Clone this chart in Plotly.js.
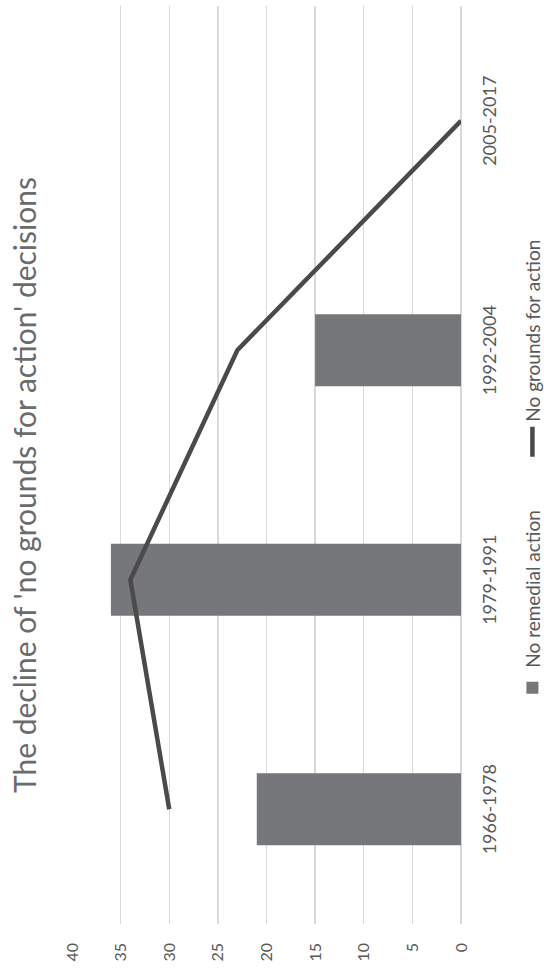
<!DOCTYPE html>
<html>
<head>
<meta charset="utf-8">
<script src="https://cdn.plot.ly/plotly-3.0.1.min.js"></script>
<style>
html,body{margin:0;padding:0;overflow:hidden;width:544px;height:970px;background:#fff}
#chart{position:absolute;left:0;top:0;width:970px;height:544px;transform-origin:0 0;transform:translateY(970px) rotate(-90deg)}
</style>
</head>
<body>
<div id="chart"></div>
<script>
const categories = ['1966-1978', '1979-1991', '1992-2004', '2005-2017'];
const noRemedialAction = [21, 36, 15, 0];
const noGroundsForAction = [30, 34, 23, 0];
const seriesNames = ['No remedial action', 'No grounds for action'];
const valueTicks = [0, 5, 10, 15, 20, 25, 30, 35, 40];
const chartTitle = "The decline of 'no grounds for action' decisions";

const FONT = 'Lato, "Open Sans", sans-serif';
const TEXT = '#595959';

const traces = [
  {
    type: 'bar',
    name: seriesNames[0],
    x: categories,
    y: noRemedialAction,
    marker: {color: '#76777a'},
    hoverinfo: 'skip'
  },
  {
    type: 'scatter',
    mode: 'lines',
    name: seriesNames[1],
    x: categories,
    y: noGroundsForAction,
    line: {color: '#4a4a4a', width: 4.5},
    hoverinfo: 'skip'
  }
];

const layout = {
  width: 970,
  height: 544,
  margin: {l: 46, r: 6, t: 72, b: 83, pad: 0},
  paper_bgcolor: '#ffffff',
  plot_bgcolor: '#ffffff',
  font: {family: FONT, color: TEXT},
  title: {
    text: chartTitle,
    font: {family: FONT, size: 30, color: '#6b6b6b'},
    x: 0.5, xref: 'container', xanchor: 'center',
    y: 0.953, yref: 'container', yanchor: 'middle'
  },
  bargap: 0.686,
  xaxis: {
    type: 'category',
    showgrid: false,
    showline: false,
    zeroline: false,
    ticks: '',
    ticklabelstandoff: 16,
    tickfont: {family: FONT, size: 18, color: TEXT}
  },
  yaxis: {
    range: [0, 40],
    tickvals: valueTicks,
    ticktext: valueTicks.map(String),
    showgrid: true,
    gridcolor: '#d9d9d9',
    gridwidth: 1.3,
    zeroline: true,
    zerolinecolor: '#d9d9d9',
    zerolinewidth: 1.3,
    showline: false,
    ticks: '',
    ticklabelstandoff: 18,
    tickfont: {family: FONT, size: 16, color: TEXT}
  },
  showlegend: true,
  legend: {
    orientation: 'h',
    x: 0.524, xref: 'container', xanchor: 'center',
    y: 0.021, yref: 'container', yanchor: 'middle',
    entrywidth: 201,
    entrywidthmode: 'pixels',
    font: {family: FONT, size: 19, color: TEXT},
    bgcolor: 'rgba(0,0,0,0)',
    traceorder: 'normal'
  }
};

Plotly.newPlot('chart', traces, layout, {displayModeBar: false, staticPlot: true});
</script>
</body>
</html>
